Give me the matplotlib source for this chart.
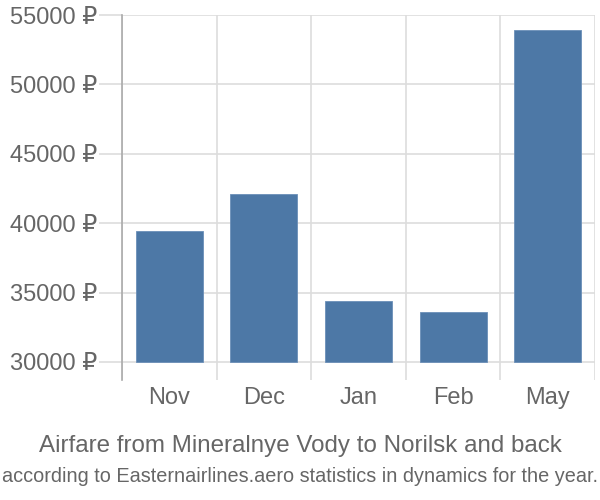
import matplotlib.pyplot as plt
from matplotlib.ticker import FixedLocator

plt.rcParams['font.family'] = ['Liberation Sans', 'DejaVu Sans']

months = ['Nov', 'Dec', 'Jan', 'Feb', 'May']
prices = [39450, 42100, 34400, 33600, 53900]
yticks = [30000, 35000, 40000, 45000, 50000, 55000]

BASE = 30000
TEXT = '#666666'
fig = plt.figure(figsize=(6, 5), dpi=100)
ax = fig.add_axes([122 / 600, 120 / 500, 473 / 600, 365 / 500])

xs = range(len(months))
ax.bar(xs, [p - BASE for p in prices], bottom=BASE, width=0.71,
       color='#4d78a6', edgecolor='#6b8fb8', linewidth=0.6, zorder=3)

ax.set_xlim(-0.5, len(months) - 0.5)
ax.set_ylim(28700, 55000)

ax.set_yticks(yticks)
ax.set_yticklabels(['{} \u20bd'.format(v) for v in yticks])
ax.set_xticks(list(xs))
ax.set_xticklabels(months)

# cell borders between categories
ax.xaxis.set_minor_locator(FixedLocator([i - 0.5 for i in range(len(months) + 1)]))
ax.grid(True, which='minor', axis='x', color='#dddddd', linewidth=1.2, zorder=0)
ax.grid(True, which='major', axis='y', color='#dddddd', linewidth=1.2, zorder=0)

ax.tick_params(axis='y', length=16.5, color='#dddddd', width=1.2, pad=1,
               labelsize=17, labelcolor=TEXT)
ax.tick_params(axis='x', which='major', length=0, pad=5,
               labelsize=17, labelcolor=TEXT)
ax.tick_params(axis='x', which='minor', length=0)

for s in ['top', 'right', 'bottom']:
    ax.spines[s].set_visible(False)
ax.spines['left'].set_color('#aaaaaa')
ax.spines['left'].set_linewidth(1.2)

fig.text(0.5, 1 - 446 / 500, 'Airfare from Mineralnye Vody to Norilsk and back',
         ha='center', va='center', fontsize=17.4, color=TEXT)
fig.text(0.5, 1 - 476 / 500,
         'according to Easternairlines.aero statistics in dynamics for the year.',
         ha='center', va='center', fontsize=14.3, color=TEXT)

fig.savefig('out.png', dpi=100)
